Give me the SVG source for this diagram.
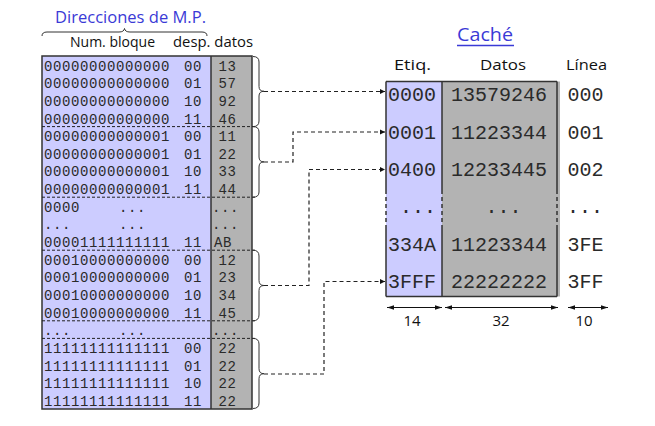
<svg xmlns="http://www.w3.org/2000/svg" width="655" height="426" viewBox="0 0 655 426">
<defs>
<marker id="ah" markerWidth="6" markerHeight="6" refX="5" refY="3" orient="auto" markerUnits="userSpaceOnUse">
<path d="M0,0.5 L5,3 L0,5.5 Z" fill="#111"/>
</marker>
<marker id="ahs" markerWidth="8" markerHeight="6" refX="7" refY="3" orient="auto-start-reverse" markerUnits="userSpaceOnUse">
<path d="M0,0.8 L7,3 L0,5.2 Z" fill="#111"/>
</marker>
<style>
.mono{font-family:"Liberation Mono","Courier New",monospace;fill:#2a2a2a}
.m{font-size:14px;letter-spacing:0.6px}
.c{font-size:20px}
.lbl{font-family:"Open Sans","DejaVu Sans",sans-serif;fill:#111}
.blue{fill:#3a3ad6}
.sep{stroke:#222;stroke-width:1;stroke-dasharray:3,2;fill:none}
.con{stroke:#222;stroke-width:1.2;stroke-dasharray:4,3;fill:none}
.brace{stroke:#333;stroke-width:1;fill:none}
.bd{stroke:#333;stroke-width:1.5;fill:none}
.dim{stroke:#111;stroke-width:1;fill:none}
</style>
</defs>

<g id="mp-header">
<text class="lbl blue" x="55" y="23" font-size="17" textLength="151" lengthAdjust="spacingAndGlyphs">Direcciones de M.P.</text>
<path class="brace" d="M42,36 Q42,32 47,32 L119,32 Q124,32 124.5,28.5 Q125,32 130,32 L202,32 Q207,32 207,36"/>
<text class="lbl" x="70" y="47" font-size="14" textLength="85" lengthAdjust="spacingAndGlyphs">Num. bloque</text>
<text class="lbl" x="173" y="47" font-size="14" textLength="80" lengthAdjust="spacingAndGlyphs">desp. datos</text>
</g>

<g id="memory">
<rect x="42" y="56" width="169" height="353" fill="#ccccff"/>
<rect x="211" y="56" width="41" height="353" fill="#b3b3b3"/>
<rect x="42" y="56" width="210" height="353" class="bd"/>
<line x1="211" y1="56" x2="211" y2="409" class="bd"/>
<line class="sep" x1="42" y1="126.6" x2="255" y2="126.6"/>
<line class="sep" x1="42" y1="197.2" x2="255" y2="197.2"/>
<line class="sep" x1="42" y1="250.2" x2="255" y2="250.2"/>
<line class="sep" x1="42" y1="320.8" x2="255" y2="320.8"/>
<line class="sep" x1="42" y1="338.4" x2="255" y2="338.4"/>
<g class="mono m">
<text x="44" y="70.5">00000000000000</text><text x="184" y="70.5">00</text><text x="218.5" y="70.5">13</text>
<text x="44" y="88.2">00000000000000</text><text x="184" y="88.2">01</text><text x="218.5" y="88.2">57</text>
<text x="44" y="105.8">00000000000000</text><text x="184" y="105.8">10</text><text x="218.5" y="105.8">92</text>
<text x="44" y="123.5">00000000000000</text><text x="184" y="123.5">11</text><text x="218.5" y="123.5">46</text>
<text x="44" y="141.1">00000000000001</text><text x="184" y="141.1">00</text><text x="218.5" y="141.1">11</text>
<text x="44" y="158.8">00000000000001</text><text x="184" y="158.8">01</text><text x="218.5" y="158.8">22</text>
<text x="44" y="176.4">00000000000001</text><text x="184" y="176.4">10</text><text x="218.5" y="176.4">33</text>
<text x="44" y="194.1">00000000000001</text><text x="184" y="194.1">11</text><text x="218.5" y="194.1">44</text>
<text x="44" y="211.7">0000</text><text x="119" y="211.7">...</text><text x="212" y="211.7">...</text>
<text x="44" y="229.4">...</text><text x="119" y="229.4">...</text><text x="212" y="229.4">...</text>
<text x="44" y="247">00001111111111</text><text x="184" y="247">11</text><text x="214" y="247">AB</text>
<text x="44" y="264.7">00010000000000</text><text x="184" y="264.7">00</text><text x="218.5" y="264.7">12</text>
<text x="44" y="282.3">00010000000000</text><text x="184" y="282.3">01</text><text x="218.5" y="282.3">23</text>
<text x="44" y="300">00010000000000</text><text x="184" y="300">10</text><text x="218.5" y="300">34</text>
<text x="44" y="317.6">00010000000000</text><text x="184" y="317.6">11</text><text x="218.5" y="317.6">45</text>
<text x="44" y="335.3">...</text><text x="119" y="335.3">...</text><text x="212" y="335.3">...</text>
<text x="44" y="352.9">11111111111111</text><text x="184" y="352.9">00</text><text x="218.5" y="352.9">22</text>
<text x="44" y="370.6">11111111111111</text><text x="184" y="370.6">01</text><text x="218.5" y="370.6">22</text>
<text x="44" y="388.2">11111111111111</text><text x="184" y="388.2">10</text><text x="218.5" y="388.2">22</text>
<text x="44" y="405.9">11111111111111</text><text x="184" y="405.9">11</text><text x="218.5" y="405.9">22</text>
</g>
</g>

<g id="braces">
<path class="brace" d="M253,56.5 Q259,56.5 259,62 L259,86.5 Q259,91.3 264,91.3 Q259,91.3 259,96 L259,121 Q259,126.6 253,126.6"/>
<path class="brace" d="M253,126.6 Q259,126.6 259,132 L259,157 Q259,161.9 264,161.9 Q259,161.9 259,167 L259,192 Q259,197.2 253,197.2"/>
<path class="brace" d="M253,250.2 Q259,250.2 259,256 L259,280.5 Q259,285.5 264,285.5 Q259,285.5 259,290.5 L259,315 Q259,320.8 253,320.8"/>
<path class="brace" d="M253,338.4 Q259,338.4 259,344 L259,368.7 Q259,373.7 264,373.7 Q259,373.7 259,378.7 L259,403 Q259,408.5 253,408.5"/>
</g>

<g id="connectors">
<path class="con" d="M264,91.5 L385,91.5" marker-end="url(#ah)"/>
<path class="con" d="M264,162 L293,162 L293,132 L385,132" marker-end="url(#ah)"/>
<path class="con" d="M264,285.5 L309,285.5 L309,169.5 L385,169.5" marker-end="url(#ah)"/>
<path class="con" d="M264,374 L324,374 L324,281.5 L385,281.5" marker-end="url(#ah)"/>
</g>

<g id="cache-header">
<text class="lbl blue" x="457" y="41" font-size="18" textLength="56" lengthAdjust="spacingAndGlyphs">Caché</text>
<line x1="457" y1="45.5" x2="514" y2="45.5" stroke="#3a3ad6" stroke-width="1.5"/>
<text class="lbl" x="394" y="70" font-size="15" textLength="37" lengthAdjust="spacingAndGlyphs">Etiq.</text>
<text class="lbl" x="480" y="70" font-size="15" textLength="46" lengthAdjust="spacingAndGlyphs">Datos</text>
<text class="lbl" x="566" y="70" font-size="15" textLength="41" lengthAdjust="spacingAndGlyphs">Línea</text>
</g>

<g id="cache">
<rect x="386" y="81.5" width="56" height="215" fill="#ccccff"/>
<rect x="442" y="81.5" width="118" height="215" fill="#b3b3b3"/>
<line class="bd" x1="386" y1="81.5" x2="557" y2="81.5"/>
<line class="bd" x1="386" y1="296.5" x2="557" y2="296.5"/>
<path class="bd" d="M386,81.5 V190 M386,229 V296.5 M442,81.5 V190 M442,229 V296.5 M557,81.5 V190 M557,229 V296.5"/>
<path d="M386,190 V229 M442,190 V229 M557,190 V229" stroke="#333" stroke-width="1.5" stroke-dasharray="4,3" fill="none"/>
<g class="mono c">
<text x="388" y="101">0000</text><text x="451" y="101">13579246</text><text x="567.5" y="101">000</text>
<text x="388" y="138.5">0001</text><text x="451" y="138.5">11223344</text><text x="567.5" y="138.5">001</text>
<text x="388" y="176">0400</text><text x="451" y="176">12233445</text><text x="567.5" y="176">002</text>
<text x="400" y="213">...</text><text x="485.5" y="213">...</text><text x="567" y="213">...</text>
<text x="388" y="250.5">334A</text><text x="451" y="250.5">11223344</text><text x="567.5" y="250.5">3FE</text>
<text x="388" y="287.5">3FFF</text><text x="451" y="287.5">22222222</text><text x="567.5" y="287.5">3FF</text>
</g>
</g>

<g id="dimensions">
<line class="dim" x1="387" y1="307.5" x2="442" y2="307.5" marker-start="url(#ahs)" marker-end="url(#ahs)"/>
<line class="dim" x1="445" y1="307.5" x2="558" y2="307.5" marker-start="url(#ahs)" marker-end="url(#ahs)"/>
<line class="dim" x1="568" y1="307.5" x2="608" y2="307.5" marker-start="url(#ahs)" marker-end="url(#ahs)"/>
<text class="lbl" x="412" y="326" font-size="15" text-anchor="middle">14</text>
<text class="lbl" x="501" y="326" font-size="15" text-anchor="middle">32</text>
<text class="lbl" x="584" y="326" font-size="15" text-anchor="middle">10</text>
</g>
</svg>
